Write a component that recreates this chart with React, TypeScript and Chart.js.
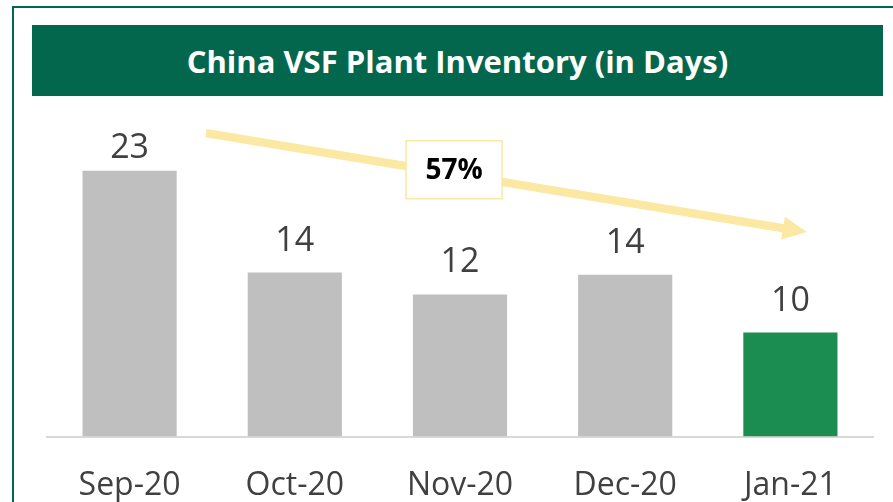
import React, { useEffect, useRef } from "react";
import { Chart, registerables } from "chart.js";

Chart.register(...registerables);

// ---- data ----
const categories = ["Sep-20", "Oct-20", "Nov-20", "Dec-20", "Jan-21"];
const inventoryDays = [23, 14.2, 12.3, 14.0, 9.0];
const valueLabels = ["23", "14", "12", "14", "10"];
const changeLabel = "57%";
const titleText = "China VSF Plant Inventory (in Days)";

// ---- styles ----
const GREEN_DARK = "#02674D";
const GRAY = "#BFBFBF";
const HIGHLIGHT = "#1B8D50";
const ARROW = "#FBE8A3";
const TEXT = "#404040";
const FONT = "'Open Sans', sans-serif";

const overlayPlugin = {
  id: "overlay",
  afterDatasetsDraw(chart: any) {
    const { ctx, chartArea } = chart;
    const meta = chart.getDatasetMeta(0);
    const xs = chart.scales.x;
    const ys = chart.scales.y;
    ctx.save();

    // value labels
    ctx.font = `34px ${FONT}`;
    ctx.fillStyle = TEXT;
    ctx.textAlign = "center";
    ctx.textBaseline = "alphabetic";
    meta.data.forEach((bar: any, i: number) => {
      const y = Math.max(bar.y - 22, chartArea.top + 68);
      ctx.fillText(valueLabels[i], bar.x, y);
    });

    // trend arrow
    const x0 = xs.getPixelForValue(0.4625);
    const y0 = ys.getPixelForValue(26.27);
    const x1 = xs.getPixelForValue(4.099);
    const y1 = ys.getPixelForValue(17.7);
    const ang = Math.atan2(y1 - y0, x1 - x0);
    const headLen = 24;
    const headHalf = 11.5;
    const bx = x1 - headLen * Math.cos(ang);
    const by = y1 - headLen * Math.sin(ang);
    ctx.strokeStyle = ARROW;
    ctx.lineWidth = 8.5;
    ctx.lineCap = "butt";
    ctx.beginPath();
    ctx.moveTo(x0, y0);
    ctx.lineTo(bx + 1 * Math.cos(ang), by + 1 * Math.sin(ang));
    ctx.stroke();
    ctx.fillStyle = ARROW;
    ctx.beginPath();
    ctx.moveTo(x1, y1);
    ctx.lineTo(bx + headHalf * Math.sin(ang), by - headHalf * Math.cos(ang));
    ctx.lineTo(bx - headHalf * Math.sin(ang), by + headHalf * Math.cos(ang));
    ctx.closePath();
    ctx.fill();

    // change box
    const cx = xs.getPixelForValue(1.964);
    const cy = ys.getPixelForValue(23.1);
    const bw = 96;
    const bh = 58;
    ctx.fillStyle = "#FFFFFF";
    ctx.fillRect(cx - bw / 2, cy - bh / 2, bw, bh);
    ctx.strokeStyle = ARROW;
    ctx.lineWidth = 1.5;
    ctx.strokeRect(cx - bw / 2, cy - bh / 2, bw, bh);
    ctx.fillStyle = "#000000";
    ctx.font = `bold 28px ${FONT}`;
    ctx.textAlign = "center";
    ctx.textBaseline = "middle";
    ctx.fillText(changeLabel, cx, cy + 1);

    ctx.restore();
  },
};

export default function App() {
  const canvasRef = useRef<HTMLCanvasElement | null>(null);

  useEffect(() => {
    if (!canvasRef.current) return;
    const chart = new Chart(canvasRef.current, {
      type: "bar",
      data: {
        labels: categories,
        datasets: [
          {
            data: inventoryDays,
            backgroundColor: inventoryDays.map((_, i) =>
              i === inventoryDays.length - 1 ? HIGHLIGHT : GRAY
            ),
            borderWidth: 0,
            barPercentage: 0.57,
            categoryPercentage: 1,
          },
        ],
      },
      options: {
        animation: false,
        responsive: false,
        maintainAspectRatio: false,
        layout: { padding: { left: 47, right: 20, top: 90, bottom: 0 } },
        plugins: {
          legend: { display: false },
          tooltip: { enabled: false },
          title: { display: false },
        },
        scales: {
          x: {
            grid: { display: false },
            border: { display: true, color: "#D9D9D9", width: 2 },
            ticks: {
              color: TEXT,
              font: { size: 32, family: FONT },
              padding: 22,
              maxRotation: 0,
              autoSkip: false,
            },
          },
          y: { display: false, min: 0, max: 30 },
        },
      },
      plugins: [overlayPlugin],
    });
    return () => chart.destroy();
  }, []);

  return (
    <div
      style={{
        position: "fixed",
        left: 0,
        top: 0,
        width: 893,
        height: 502,
        overflow: "hidden",
        background: "#FFFFFF",
      }}
    >
      <div
        style={{
          position: "absolute",
          left: 12,
          top: 6,
          width: 1000,
          height: 1000,
          border: `2px solid ${GREEN_DARK}`,
        }}
      />
      <canvas
        ref={canvasRef}
        width={893}
        height={527}
        style={{ position: "absolute", left: 0, top: 0, width: 893, height: 527, display: "block" }}
      />
      <div
        style={{
          position: "absolute",
          left: 32,
          top: 25,
          width: 851,
          height: 71,
          background: GREEN_DARK,
          color: "#FFFFFF",
          fontFamily: FONT,
          fontWeight: 700,
          fontSize: 31,
          display: "flex",
          alignItems: "center",
          justifyContent: "center",
          whiteSpace: "nowrap",
        }}
      >
        {titleText}
      </div>
    </div>
  );
}
